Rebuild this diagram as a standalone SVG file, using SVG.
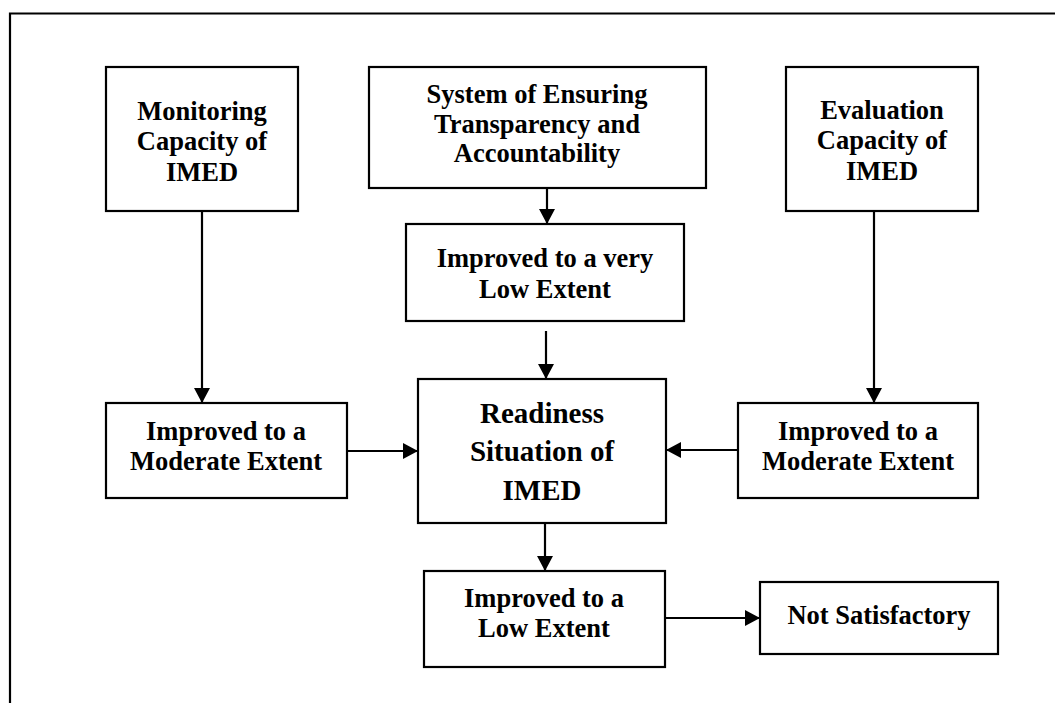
<svg xmlns="http://www.w3.org/2000/svg" width="1055" height="703" viewBox="0 0 1055 703">
<defs>
<style>
.box{fill:#fff;stroke:#000;stroke-width:2.2}
.t{font-family:"Liberation Serif","Times New Roman",serif;font-weight:bold;font-size:26.5px;fill:#000;text-anchor:middle}
.big{font-size:29px}
.c{stroke:#000;stroke-width:2.2;fill:none}
</style>
<marker id="ah" viewBox="0 0 15 16" refX="15" refY="8" markerWidth="15" markerHeight="16" markerUnits="userSpaceOnUse" orient="auto">
<path d="M0,0 L15,8 L0,16 Z" fill="#000"/>
</marker>
</defs>
<rect width="1055" height="703" fill="#fff"/>
<path d="M10,703 V13.5 H1055" fill="none" stroke="#000" stroke-width="2.2"/>
<g id="connectors">
<line class="c" x1="202" y1="211" x2="202" y2="403" marker-end="url(#ah)"/>
<line class="c" x1="547" y1="188" x2="547" y2="224" marker-end="url(#ah)"/>
<line class="c" x1="874" y1="211" x2="874" y2="403" marker-end="url(#ah)"/>
<line class="c" x1="546" y1="331" x2="546" y2="379" marker-end="url(#ah)"/>
<line class="c" x1="347" y1="451" x2="418" y2="451" marker-end="url(#ah)"/>
<line class="c" x1="738" y1="450" x2="666" y2="450" marker-end="url(#ah)"/>
<line class="c" x1="545" y1="523" x2="545" y2="571" marker-end="url(#ah)"/>
<line class="c" x1="665" y1="618" x2="760" y2="618" marker-end="url(#ah)"/>
</g>
<g id="monitoring">
<rect class="box" x="106" y="67" width="192" height="144"/>
<text class="t" x="202" y="120">Monitoring</text>
<text class="t" x="202" y="150">Capacity of</text>
<text class="t" x="202" y="181">IMED</text>
</g>
<g id="system">
<rect class="box" x="369" y="67" width="337" height="121"/>
<text class="t" x="537" y="103">System of Ensuring</text>
<text class="t" x="537" y="133">Transparency and</text>
<text class="t" x="537" y="162">Accountability</text>
</g>
<g id="evaluation">
<rect class="box" x="786" y="67" width="192" height="144"/>
<text class="t" x="882" y="119">Evaluation</text>
<text class="t" x="882" y="149">Capacity of</text>
<text class="t" x="882" y="180">IMED</text>
</g>
<g id="verylow">
<rect class="box" x="406" y="224" width="278" height="97"/>
<text class="t" x="545" y="267">Improved to a very</text>
<text class="t" x="545" y="298">Low Extent</text>
</g>
<g id="moderate-left">
<rect class="box" x="106" y="403" width="241" height="95"/>
<text class="t" x="226" y="440">Improved to a</text>
<text class="t" x="226" y="470">Moderate Extent</text>
</g>
<g id="readiness">
<rect class="box" x="418" y="379" width="248" height="144"/>
<text class="t big" x="542" y="423">Readiness</text>
<text class="t big" x="542" y="461">Situation of</text>
<text class="t big" x="542" y="500">IMED</text>
</g>
<g id="moderate-right">
<rect class="box" x="738" y="403" width="240" height="95"/>
<text class="t" x="858" y="440">Improved to a</text>
<text class="t" x="858" y="470">Moderate Extent</text>
</g>
<g id="low">
<rect class="box" x="424" y="571" width="241" height="96"/>
<text class="t" x="544" y="607">Improved to a</text>
<text class="t" x="544" y="637">Low Extent</text>
</g>
<g id="notsat">
<rect class="box" x="760" y="582" width="238" height="72"/>
<text class="t" x="879" y="624">Not Satisfactory</text>
</g>
</svg>
